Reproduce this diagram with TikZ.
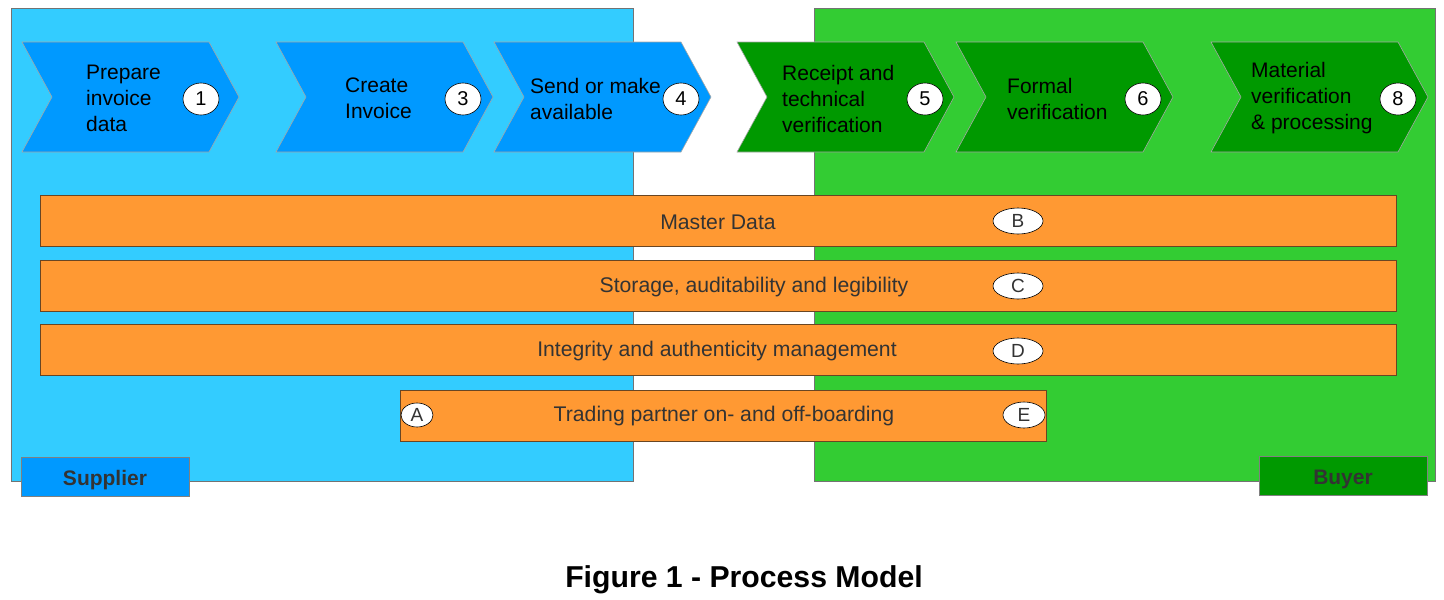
\documentclass[tikz,border=0pt]{standalone}
\usepackage{fontspec}
\setmainfont{Liberation Sans}
\usetikzlibrary{shapes.geometric}
\definecolor{suppbg}{HTML}{33CCFF}
\definecolor{suppchev}{HTML}{0099FF}
\definecolor{buybg}{HTML}{33CC33}
\definecolor{buychev}{HTML}{009900}
\definecolor{orangebar}{HTML}{FF9933}
\definecolor{bartext}{HTML}{333333}
\begin{document}
\begin{tikzpicture}[x=1pt,y=-1pt,
  panel/.style={draw=black!55, line width=0.8pt},
  chevline/.style={draw=black!35, line width=0.6pt},
  bar/.style={draw=black!45!brown, fill=orangebar, line width=0.8pt},
  chevtext/.style={anchor=west, align=left, inner sep=0pt, text=black,
    font=\fontsize{21}{26}\selectfont},
  bartxt/.style={inner sep=0pt, text=bartext, font=\fontsize{21.2}{26}\selectfont},
  num/.style={ellipse, draw=black, fill=white, line width=0.6pt, minimum width=36pt,
    minimum height=32pt, inner sep=0pt, font=\fontsize{20}{20}\selectfont},
  letter/.style={ellipse, draw=black, fill=white, line width=0.6pt, minimum width=50pt,
    minimum height=26pt, inner sep=0pt, text=bartext, font=\fontsize{19}{19}\selectfont},
  rolebox/.style={draw=black!50, line width=0.8pt, inner sep=0pt, minimum width=168pt,
    minimum height=39pt, text height=17pt, text depth=0pt, text=bartext,
    font=\fontsize{21}{24}\bfseries}
]
\useasboundingbox (0,0) rectangle (1444,600);
% panels
\fill[suppbg] (11,8) rectangle (633,481);
\draw[panel] (11,8) rectangle (633,481);
\fill[buybg] (814,8) rectangle (1435,481);
\draw[panel] (814,8) rectangle (1435,481);
% chevrons
\foreach \x/\c in {22/suppchev,276/suppchev,494/suppchev,737/buychev,956/buychev,1211/buychev}{
  \filldraw[chevline, fill=\c] (\x,42) -- ++(187,0) -- ++(30,55) -- ++(-30,55) -- ++(-187,0) -- ++(30,-55) -- cycle;
}
\node[chevtext] (t1) at (86,98.5) {Prepare\\invoice\\data};
\node[chevtext] (t2) at (345,98.5) {Create\\Invoice};
\node[chevtext] (t3) at (530,98.5) {Send or make\\available};
\node[chevtext] (t4) at (782,98.5) {Receipt and\\technical\\verification};
\node[chevtext] (t5) at (1007,98.5) {Formal\\verification};
\node[chevtext] (t6) at (1251,98.5) {Material\\verification\\\& processing};
\node[num] (n1) at (201,99) {1};
\node[num] (n3) at (463,99) {3};
\node[num] (n4) at (681,99) {4};
\node[num] (n5) at (925,99) {5};
\node[num] (n6) at (1143,99) {6};
\node[num] (n8) at (1398,99) {8};
% bars
\draw[bar] (40,195) rectangle (1396,246);
\draw[bar] (40,260) rectangle (1396,311);
\draw[bar] (40,324) rectangle (1396,375);
\draw[bar] (400,390) rectangle (1046,441);
\node[bartxt] (b1) at (718,222.5) {Master Data};
\node[bartxt] (b2) at (754,287.5) {Storage, auditability and legibility};
\node[bartxt] (b3) at (717,351.5) {Integrity and authenticity management};
\node[bartxt] (b4) at (724,416.5) {Trading partner on- and off-boarding};
\node[letter] (lB) at (1018,221) {B};
\node[letter] (lC) at (1018,286) {C};
\node[letter] (lD) at (1018,351) {D};
\node[letter, minimum width=32pt, minimum height=24pt] (lA) at (417,415) {A};
\node[letter, minimum width=42pt] (lE) at (1024,415) {E};
% role labels
\node[rolebox, fill=suppchev] (sup) at (105,476.5) {Supplier};
\node[rolebox, fill=buychev] (buy) at (1343,475.5) {Buyer};
% title
\node[inner sep=0pt, font=\fontsize{30.2}{34}\bfseries] (title) at (744,580) {Figure 1 - Process Model};
\end{tikzpicture}
\end{document}
